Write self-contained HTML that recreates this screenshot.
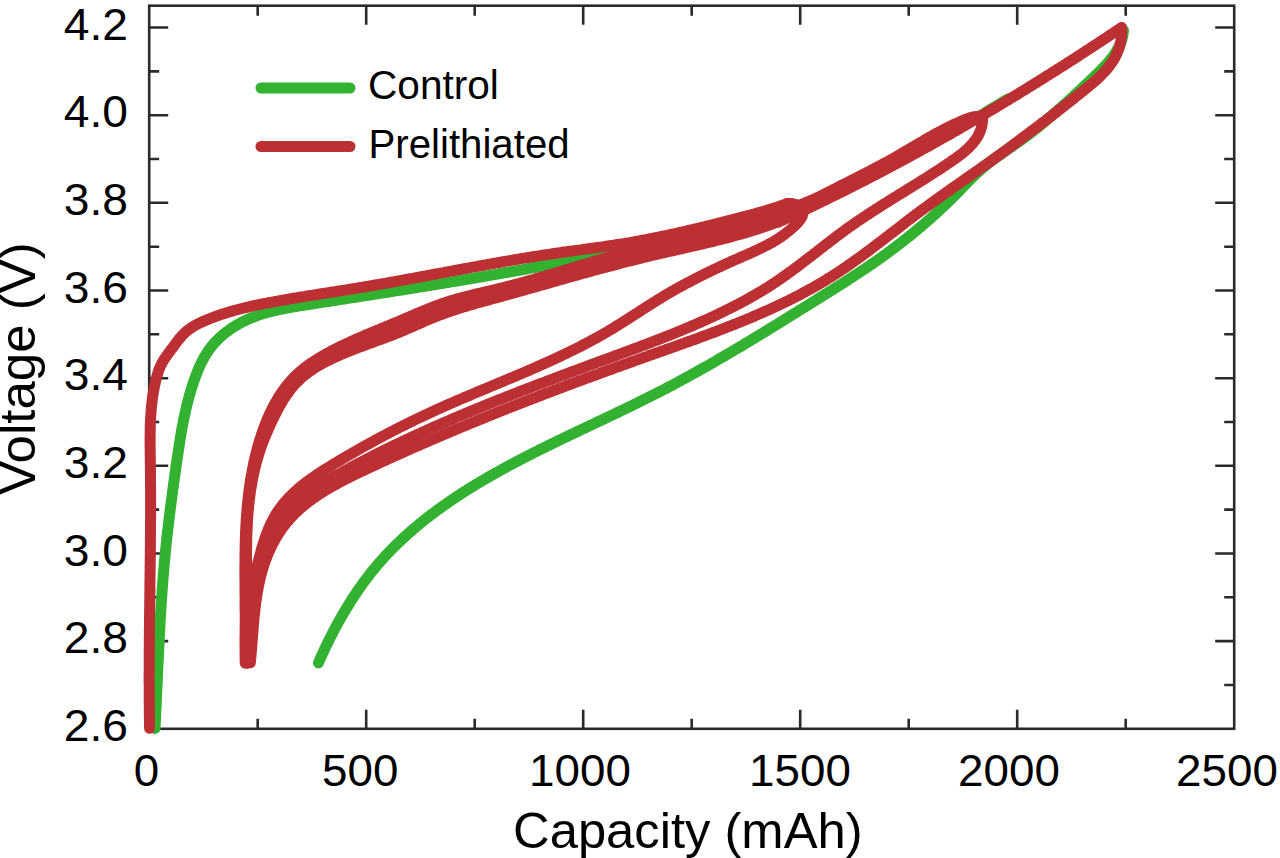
<!DOCTYPE html>
<html><head><meta charset="utf-8"><style>
html,body{margin:0;padding:0;background:#fff;width:1280px;height:858px;overflow:hidden}
svg{display:block}
#w{width:1280px;height:858px}
text{fill:#000}
</style></head><body>
<div id="w"><svg width="1280" height="858" viewBox="0 0 1280 858">
<rect x="149.2" y="5.7" width="1085.0" height="723.1" stroke="#2a2a2a" stroke-width="2.6" fill="none"/>
<path d="M257.7,728.8V718.8 M257.7,5.7V15.7 M366.2,728.8V709.8 M366.2,5.7V24.7 M474.7,728.8V718.8 M474.7,5.7V15.7 M583.2,728.8V709.8 M583.2,5.7V24.7 M691.7,728.8V718.8 M691.7,5.7V15.7 M800.2,728.8V709.8 M800.2,5.7V24.7 M908.7,728.8V718.8 M908.7,5.7V15.7 M1017.2,728.8V709.8 M1017.2,5.7V24.7 M1125.7,728.8V718.8 M1125.7,5.7V15.7 M149.2,685.0H159.2 M1234.2,685.0H1224.2 M149.2,641.1H168.2 M1234.2,641.1H1215.2 M149.2,597.3H159.2 M1234.2,597.3H1224.2 M149.2,553.5H168.2 M1234.2,553.5H1215.2 M149.2,509.6H159.2 M1234.2,509.6H1224.2 M149.2,465.8H168.2 M1234.2,465.8H1215.2 M149.2,422.0H159.2 M1234.2,422.0H1224.2 M149.2,378.2H168.2 M1234.2,378.2H1215.2 M149.2,334.3H159.2 M1234.2,334.3H1224.2 M149.2,290.5H168.2 M1234.2,290.5H1215.2 M149.2,246.7H159.2 M1234.2,246.7H1224.2 M149.2,202.8H168.2 M1234.2,202.8H1215.2 M149.2,159.0H159.2 M1234.2,159.0H1224.2 M149.2,115.2H168.2 M1234.2,115.2H1215.2 M149.2,71.4H159.2 M1234.2,71.4H1224.2 M149.2,27.5H168.2 M1234.2,27.5H1215.2" stroke="#2a2a2a" stroke-width="2.6" fill="none"/>
<path d="M155.0,728.5 L155.1,726.5 L155.2,724.5 L155.3,722.5 L155.4,720.5 L155.5,718.5 L155.6,716.5 L155.7,714.5 L155.8,712.5 L155.9,710.5 L156.0,708.5 L156.1,706.5 L156.2,704.5 L156.3,702.5 L156.4,700.5 L156.4,698.5 L156.5,696.5 L156.6,694.5 L156.7,692.5 L156.8,690.5 L156.9,688.5 L157.0,686.5 L157.1,684.5 L157.2,682.5 L157.3,680.5 L157.4,678.5 L157.4,676.4 L157.5,674.4 L157.6,672.4 L157.7,670.4 L157.8,668.4 L157.9,666.4 L158.0,664.4 L158.1,662.4 L158.2,660.4 L158.3,658.4 L158.4,656.4 L158.5,654.4 L158.6,652.3 L158.7,650.3 L158.8,648.3 L158.9,646.3 L159.0,644.3 L159.1,642.3 L159.2,640.3 L159.3,638.3 L159.4,636.3 L159.5,634.3 L159.6,632.3 L159.7,630.2 L159.8,628.2 L159.9,626.2 L160.0,624.2 L160.1,622.2 L160.2,620.2 L160.3,618.2 L160.5,616.2 L160.6,614.2 L160.7,612.2 L160.8,610.2 L161.0,608.2 L161.1,606.1 L161.2,604.1 L161.3,602.1 L161.5,600.1 L161.6,598.1 L161.7,596.1 L161.9,594.1 L162.0,592.1 L162.2,590.1 L162.3,588.1 L162.5,586.1 L162.6,584.1 L162.8,582.1 L162.9,580.1 L163.1,578.1 L163.2,576.1 L163.4,574.1 L163.6,572.1 L163.7,570.1 L163.9,568.1 L164.1,566.1 L164.2,564.1 L164.4,562.1 L164.6,560.1 L164.8,558.1 L165.0,556.1 L165.2,554.1 L165.4,552.1 L165.6,550.1 L165.8,548.1 L166.0,546.2 L166.2,544.2 L166.4,542.2 L166.6,540.2 L166.8,538.2 L167.0,536.2 L167.3,534.2 L167.5,532.2 L167.7,530.2 L168.0,528.3 L168.2,526.3 L168.4,524.3 L168.7,522.3 L168.9,520.3 L169.1,518.3 L169.4,516.3 L169.6,514.4 L169.9,512.4 L170.1,510.4 L170.4,508.4 L170.6,506.4 L170.9,504.4 L171.1,502.4 L171.4,500.5 L171.7,498.5 L171.9,496.5 L172.2,494.5 L172.5,492.5 L172.7,490.5 L173.0,488.5 L173.3,486.5 L173.5,484.6 L173.8,482.6 L174.1,480.6 L174.4,478.6 L174.6,476.6 L174.9,474.6 L175.2,472.6 L175.5,470.6 L175.8,468.6 L176.0,466.6 L176.3,464.6 L176.6,462.6 L176.9,460.6 L177.2,458.6 L177.5,456.6 L177.8,454.6 L178.1,452.6 L178.4,450.6 L178.7,448.6 L179.0,446.6 L179.3,444.7 L179.6,442.7 L179.9,440.7 L180.2,438.7 L180.6,436.7 L180.9,434.7 L181.2,432.7 L181.6,430.7 L181.9,428.7 L182.3,426.7 L182.7,424.8 L183.1,422.8 L183.4,420.8 L183.8,418.8 L184.2,416.9 L184.7,414.9 L185.1,412.9 L185.5,411.0 L186.0,409.0 L186.4,407.1 L186.9,405.1 L187.4,403.2 L187.9,401.2 L188.4,399.3 L188.9,397.4 L189.4,395.4 L190.0,393.5 L190.5,391.6 L191.1,389.7 L191.7,387.8 L192.3,385.9 L192.9,384.0 L193.6,382.1 L194.2,380.2 L194.9,378.3 L195.6,376.5 L196.3,374.6 L197.0,372.7 L197.7,370.9 L198.5,369.1 L199.3,367.2 L200.1,365.4 L201.0,363.6 L201.8,361.8 L202.7,360.1 L203.7,358.3 L204.6,356.6 L205.7,354.9 L206.7,353.2 L207.8,351.5 L208.9,349.9 L210.1,348.3 L211.4,346.7 L212.6,345.1 L213.9,343.6 L215.3,342.1 L216.7,340.7 L218.1,339.2 L219.6,337.8 L221.1,336.4 L222.6,335.1 L224.2,333.8 L225.7,332.5 L227.4,331.3 L229.0,330.1 L230.6,328.9 L232.3,327.8 L234.0,326.7 L235.7,325.7 L237.4,324.7 L239.1,323.7 L240.9,322.7 L242.6,321.8 L244.4,321.0 L246.2,320.1 L248.0,319.3 L249.8,318.5 L251.7,317.8 L253.5,317.1 L255.3,316.4 L257.2,315.7 L259.1,315.0 L260.9,314.4 L262.8,313.8 L264.7,313.3 L266.6,312.7 L268.6,312.2 L270.5,311.7 L272.4,311.2 L274.3,310.7 L276.3,310.3 L278.2,309.8 L280.2,309.4 L282.2,309.0 L284.1,308.6 L286.1,308.2 L288.1,307.9 L290.1,307.5 L292.1,307.1 L294.0,306.8 L296.0,306.5 L298.0,306.1 L300.0,305.8 L302.0,305.5 L304.0,305.2 L306.0,304.9 L308.0,304.6 L310.0,304.3 L312.0,304.0 L314.0,303.6 L316.0,303.3 L318.0,303.0 L320.0,302.7 L322.0,302.4 L324.0,302.1 L326.0,301.8 L328.0,301.5 L330.0,301.2 L332.0,300.9 L334.0,300.6 L336.0,300.3 L338.0,299.9 L340.0,299.6 L342.0,299.3 L344.0,299.0 L345.9,298.7 L347.9,298.4 L349.9,298.1 L351.9,297.8 L353.9,297.5 L355.9,297.2 L357.9,296.9 L359.9,296.5 L361.9,296.2 L363.9,295.9 L365.9,295.6 L367.8,295.3 L369.8,295.0 L371.8,294.7 L373.8,294.4 L375.8,294.1 L377.8,293.7 L379.8,293.4 L381.7,293.1 L383.7,292.8 L385.7,292.5 L387.7,292.2 L389.7,291.9 L391.7,291.6 L393.7,291.2 L395.6,290.9 L397.6,290.6 L399.6,290.3 L401.6,290.0 L403.6,289.7 L405.6,289.3 L407.5,289.0 L409.5,288.7 L411.5,288.4 L413.5,288.1 L415.5,287.8 L417.4,287.4 L419.4,287.1 L421.4,286.8 L423.4,286.5 L425.4,286.2 L427.3,285.8 L429.3,285.5 L431.3,285.2 L433.3,284.9 L435.3,284.5 L437.2,284.2 L439.2,283.9 L441.2,283.6 L443.2,283.2 L445.2,282.9 L447.1,282.6 L449.1,282.3 L451.1,281.9 L453.1,281.6 L455.0,281.3 L457.0,281.0 L459.0,280.6 L461.0,280.3 L462.9,280.0 L464.9,279.6 L466.9,279.3 L468.9,279.0 L470.8,278.6 L472.8,278.3 L474.8,278.0 L476.8,277.6 L478.7,277.3 L480.7,277.0 L482.7,276.6 L484.7,276.3 L486.6,275.9 L488.6,275.6 L490.6,275.3 L492.6,274.9 L494.5,274.6 L496.5,274.2 L498.5,273.9 L500.4,273.5 L502.4,273.2 L504.4,272.8 L506.4,272.5 L508.3,272.2 L510.3,271.8 L512.3,271.5 L514.3,271.1 L516.2,270.8 L518.2,270.4 L520.2,270.0 L522.1,269.7 L524.1,269.3 L526.1,269.0 L528.0,268.6 L530.0,268.3 L532.0,267.9 L534.0,267.5 L535.9,267.2 L537.9,266.8 L539.9,266.5 L541.8,266.1 L543.8,265.7 L545.8,265.4 L547.8,265.0 L549.7,264.6 L551.7,264.3 L553.7,263.9 L555.6,263.5 L557.6,263.2 L559.6,262.8 L561.5,262.4 L563.5,262.0 L565.5,261.7 L567.5,261.3 L569.4,260.9 L571.4,260.5 L573.4,260.2 L575.3,259.8 L577.3,259.4 L579.3,259.0 L581.2,258.6 L583.2,258.2 L585.2,257.8 L587.2,257.5 L589.1,257.1 L591.1,256.7 L593.1,256.3 L595.0,255.9 L597.0,255.5 L599.0,255.1 L600.9,254.7 L602.9,254.3 L604.9,253.9 L606.8,253.5 L608.8,253.1 L610.8,252.7 L612.8,252.3 L614.7,251.9 L616.7,251.5 L618.7,251.1 L620.6,250.7 L622.6,250.3 L624.6,249.9 L626.5,249.4 L628.5,249.0 L630.5,248.6 L632.5,248.2 L634.4,247.8 L636.4,247.4 L638.4,246.9 L640.3,246.5 L642.3,246.1 L644.3,245.7 L646.3,245.2 L648.2,244.8 L650.2,244.4 L652.2,243.9 L654.1,243.5 L656.1,243.1 L658.1,242.6 L660.1,242.2" stroke="#33b232" stroke-width="11" fill="none" stroke-linecap="round" stroke-linejoin="round"/>
<path d="M977.0,117.3 L984.0,113.5 L990.0,109.6 L1000.0,103.6 L1008.0,99.0" stroke="#33b232" stroke-width="11" fill="none" stroke-linecap="round" stroke-linejoin="round"/>
<path d="M1123.5,30.5 L1123.3,32.4 L1123.0,34.3 L1122.7,36.1 L1122.3,37.9 L1121.8,39.7 L1121.2,41.4 L1120.5,43.2 L1119.8,44.9 L1119.0,46.5 L1118.2,48.2 L1117.3,49.8 L1116.3,51.5 L1115.3,53.1 L1114.2,54.6 L1113.1,56.2 L1111.9,57.7 L1110.7,59.3 L1109.5,60.8 L1108.2,62.3 L1106.9,63.8 L1105.6,65.3 L1104.2,66.7 L1102.8,68.2 L1101.4,69.6 L1099.9,71.1 L1098.5,72.5 L1097.0,73.9 L1095.5,75.4 L1094.1,76.8 L1092.6,78.2 L1091.1,79.6 L1089.6,81.0 L1088.1,82.4 L1086.6,83.8 L1085.1,85.2 L1083.6,86.6 L1082.2,88.0 L1080.7,89.4 L1079.2,90.8 L1077.7,92.2 L1076.2,93.6 L1074.7,95.0 L1073.2,96.4 L1071.7,97.8 L1070.2,99.2 L1068.8,100.5 L1067.3,101.9 L1065.8,103.3 L1064.3,104.6 L1062.8,106.0 L1061.3,107.3 L1059.7,108.7 L1058.2,110.0 L1056.7,111.3 L1055.2,112.7 L1053.7,114.0 L1052.2,115.3 L1050.7,116.6 L1049.1,117.9 L1047.6,119.2 L1046.1,120.5 L1044.5,121.8 L1043.0,123.1 L1041.4,124.4 L1039.9,125.6 L1038.3,126.9 L1036.8,128.1 L1035.2,129.4 L1033.6,130.6 L1032.1,131.9 L1030.5,133.1 L1028.9,134.3 L1027.3,135.5 L1025.7,136.7 L1024.1,137.9 L1022.5,139.1 L1020.9,140.2 L1019.3,141.4 L1017.6,142.5 L1016.0,143.7 L1014.4,144.8 L1012.7,146.0 L1011.1,147.1 L1009.4,148.2 L1007.8,149.3 L1006.2,150.5 L1004.5,151.6 L1002.9,152.7 L1001.2,153.9 L999.6,155.0 L998.0,156.2 L996.4,157.3 L994.8,158.5 L993.2,159.6 L991.6,160.8 L990.0,162.0 L988.4,163.2 L986.9,164.5 L985.3,165.7 L983.8,167.0 L982.3,168.2 L980.8,169.5 L979.3,170.9 L977.9,172.2 L976.4,173.6 L975.0,174.9 L973.5,176.3 L972.1,177.7 L970.7,179.1 L969.3,180.5 L967.9,182.0 L966.5,183.4 L965.1,184.8 L963.7,186.3 L962.3,187.7 L960.9,189.1 L959.6,190.6 L958.2,192.0 L956.8,193.4 L955.3,194.9 L953.9,196.3 L952.5,197.7 L951.1,199.1 L949.7,200.5 L948.2,201.9 L946.8,203.3 L945.3,204.7 L943.9,206.1 L942.4,207.5 L941.0,208.8 L939.5,210.2 L938.0,211.5 L936.5,212.9 L935.1,214.3 L933.6,215.6 L932.1,216.9 L930.6,218.3 L929.1,219.6 L927.6,220.9 L926.1,222.2 L924.5,223.6 L923.0,224.9 L921.5,226.2 L920.0,227.5 L918.4,228.7 L916.9,230.0 L915.3,231.3 L913.8,232.6 L912.2,233.9 L910.7,235.1 L909.1,236.4 L907.5,237.6 L906.0,238.9 L904.4,240.1 L902.8,241.4 L901.2,242.6 L899.6,243.8 L898.0,245.1 L896.4,246.3 L894.8,247.5 L893.2,248.7 L891.6,249.9 L890.0,251.1 L888.4,252.3 L886.8,253.5 L885.1,254.7 L883.5,255.8 L881.9,257.0 L880.2,258.2 L878.6,259.3 L877.0,260.5 L875.3,261.7 L873.7,262.8 L872.0,263.9 L870.3,265.1 L868.7,266.2 L867.0,267.3 L865.4,268.5 L863.7,269.6 L862.0,270.7 L860.3,271.8 L858.7,272.9 L857.0,274.0 L855.3,275.1 L853.6,276.2 L851.9,277.3 L850.2,278.4 L848.5,279.5 L846.9,280.6 L845.2,281.7 L843.5,282.8 L841.8,283.9 L840.1,285.0 L838.4,286.0 L836.7,287.1 L835.0,288.2 L833.3,289.3 L831.6,290.3 L829.9,291.4 L828.1,292.5 L826.4,293.6 L824.7,294.6 L823.0,295.7 L821.3,296.8 L819.6,297.8 L817.9,298.9 L816.2,300.0 L814.5,301.0 L812.8,302.1 L811.1,303.2 L809.3,304.2 L807.6,305.3 L805.9,306.4 L804.2,307.4 L802.5,308.5 L800.8,309.6 L799.1,310.6 L797.4,311.7 L795.7,312.8 L794.0,313.8 L792.2,314.9 L790.5,315.9 L788.8,317.0 L787.1,318.1 L785.4,319.1 L783.7,320.2 L782.0,321.2 L780.2,322.3 L778.5,323.4 L776.8,324.4 L775.1,325.5 L773.4,326.5 L771.7,327.6 L770.0,328.6 L768.2,329.7 L766.5,330.8 L764.8,331.8 L763.1,332.9 L761.4,333.9 L759.6,334.9 L757.9,336.0 L756.2,337.0 L754.5,338.1 L752.7,339.1 L751.0,340.2 L749.3,341.2 L747.6,342.2 L745.8,343.3 L744.1,344.3 L742.4,345.4 L740.7,346.4 L738.9,347.4 L737.2,348.4 L735.5,349.5 L733.7,350.5 L732.0,351.5 L730.3,352.5 L728.5,353.6 L726.8,354.6 L725.1,355.6 L723.3,356.6 L721.6,357.6 L719.8,358.6 L718.1,359.6 L716.4,360.7 L714.6,361.7 L712.9,362.7 L711.1,363.7 L709.4,364.7 L707.6,365.7 L705.9,366.7 L704.1,367.6 L702.4,368.6 L700.6,369.6 L698.9,370.6 L697.1,371.6 L695.4,372.6 L693.6,373.5 L691.8,374.5 L690.1,375.5 L688.3,376.5 L686.5,377.4 L684.8,378.4 L683.0,379.3 L681.2,380.3 L679.5,381.3 L677.7,382.2 L675.9,383.2 L674.2,384.1 L672.4,385.1 L670.6,386.0 L668.8,386.9 L667.0,387.9 L665.3,388.8 L663.5,389.7 L661.7,390.7 L659.9,391.6 L658.1,392.5 L656.3,393.4 L654.5,394.3 L652.7,395.2 L650.9,396.1 L649.1,397.0 L647.3,397.9 L645.5,398.8 L643.7,399.7 L641.9,400.6 L640.1,401.5 L638.3,402.4 L636.5,403.3 L634.7,404.2 L632.9,405.1 L631.1,406.0 L629.3,406.8 L627.5,407.7 L625.7,408.6 L623.9,409.5 L622.0,410.3 L620.2,411.2 L618.4,412.1 L616.6,412.9 L614.8,413.8 L613.0,414.7 L611.2,415.5 L609.3,416.4 L607.5,417.3 L605.7,418.1 L603.9,419.0 L602.1,419.9 L600.2,420.7 L598.4,421.6 L596.6,422.4 L594.8,423.3 L593.0,424.2 L591.1,425.0 L589.3,425.9 L587.5,426.8 L585.7,427.6 L583.9,428.5 L582.0,429.3 L580.2,430.2 L578.4,431.1 L576.6,431.9 L574.8,432.8 L572.9,433.7 L571.1,434.5 L569.3,435.4 L567.5,436.3 L565.7,437.1 L563.9,438.0 L562.0,438.9 L560.2,439.8 L558.4,440.6 L556.6,441.5 L554.8,442.4 L553.0,443.3 L551.2,444.1 L549.4,445.0 L547.6,445.9 L545.8,446.8 L543.9,447.7 L542.1,448.6 L540.3,449.5 L538.5,450.4 L536.7,451.3 L534.9,452.2 L533.1,453.1 L531.3,454.0 L529.6,454.9 L527.8,455.8 L526.0,456.8 L524.2,457.7 L522.4,458.6 L520.6,459.5 L518.8,460.5 L517.0,461.4 L515.2,462.3 L513.5,463.3 L511.7,464.2 L509.9,465.2 L508.1,466.1 L506.4,467.1 L504.6,468.1 L502.8,469.0 L501.1,470.0 L499.3,471.0 L497.5,472.0 L495.8,472.9 L494.0,473.9 L492.3,474.9 L490.5,475.9 L488.8,476.9 L487.0,477.9 L485.3,479.0 L483.5,480.0 L481.8,481.0 L480.1,482.0 L478.3,483.1 L476.6,484.1 L474.9,485.1 L473.2,486.2 L471.4,487.3 L469.7,488.3 L468.0,489.4 L466.3,490.5 L464.6,491.6 L462.9,492.6 L461.2,493.7 L459.5,494.8 L457.8,495.9 L456.1,497.0 L454.5,498.2 L452.8,499.3 L451.1,500.4 L449.5,501.6 L447.8,502.7 L446.1,503.9 L444.5,505.0 L442.8,506.2 L441.2,507.3 L439.6,508.5 L437.9,509.7 L436.3,510.9 L434.7,512.1 L433.1,513.3 L431.5,514.5 L429.9,515.7 L428.3,517.0 L426.7,518.2 L425.1,519.4 L423.6,520.7 L422.0,521.9 L420.4,523.2 L418.9,524.5 L417.3,525.8 L415.8,527.1 L414.3,528.3 L412.7,529.7 L411.2,531.0 L409.7,532.3 L408.2,533.6 L406.7,535.0 L405.2,536.3 L403.8,537.6 L402.3,539.0 L400.8,540.4 L399.4,541.8 L397.9,543.1 L396.5,544.5 L395.1,545.9 L393.6,547.4 L392.2,548.8 L390.8,550.2 L389.4,551.7 L388.1,553.1 L386.7,554.6 L385.3,556.0 L384.0,557.5 L382.6,559.0 L381.3,560.5 L380.0,562.0 L378.6,563.5 L377.3,565.0 L376.0,566.6 L374.8,568.1 L373.5,569.7 L372.2,571.2 L371.0,572.8 L369.7,574.4 L368.5,576.0 L367.2,577.6 L366.0,579.2 L364.8,580.8 L363.6,582.4 L362.4,584.0 L361.3,585.7 L360.1,587.3 L358.9,589.0 L357.8,590.6 L356.7,592.3 L355.5,594.0 L354.4,595.7 L353.3,597.3 L352.2,599.0 L351.1,600.7 L350.0,602.5 L349.0,604.2 L347.9,605.9 L346.8,607.6 L345.8,609.3 L344.8,611.1 L343.7,612.8 L342.7,614.6 L341.7,616.3 L340.7,618.1 L339.7,619.8 L338.7,621.6 L337.7,623.4 L336.8,625.1 L335.8,626.9 L334.9,628.7 L333.9,630.5 L333.0,632.2 L332.1,634.0 L331.2,635.8 L330.2,637.6 L329.3,639.4 L328.5,641.2 L327.6,643.0 L326.7,644.8 L325.8,646.6 L325.0,648.4 L324.1,650.2 L323.3,652.1 L322.4,653.9 L321.6,655.7 L320.8,657.5 L320.0,659.3 L319.2,661.1 L318.4,662.9" stroke="#33b232" stroke-width="11" fill="none" stroke-linecap="round" stroke-linejoin="round"/>
<path d="M149.6,728.3 L149.5,726.3 L149.5,724.3 L149.5,722.3 L149.4,720.3 L149.4,718.3 L149.4,716.2 L149.4,714.2 L149.3,712.2 L149.3,710.2 L149.3,708.2 L149.3,706.2 L149.3,704.2 L149.2,702.1 L149.2,700.1 L149.2,698.1 L149.2,696.1 L149.2,694.1 L149.2,692.1 L149.2,690.1 L149.2,688.1 L149.2,686.1 L149.2,684.0 L149.1,682.0 L149.1,680.0 L149.1,678.0 L149.1,676.0 L149.1,674.0 L149.2,672.0 L149.2,670.0 L149.2,668.0 L149.2,666.0 L149.2,664.0 L149.2,662.0 L149.2,660.0 L149.2,658.0 L149.2,655.9 L149.2,653.9 L149.2,651.9 L149.2,649.9 L149.3,647.9 L149.3,645.9 L149.3,643.9 L149.3,641.9 L149.3,639.9 L149.3,637.9 L149.4,635.9 L149.4,633.9 L149.4,631.9 L149.4,629.9 L149.4,627.9 L149.5,625.9 L149.5,623.9 L149.5,621.9 L149.5,619.9 L149.5,617.9 L149.6,615.9 L149.6,613.9 L149.6,611.9 L149.6,609.9 L149.7,607.9 L149.7,605.9 L149.7,603.9 L149.7,601.9 L149.8,599.9 L149.8,597.9 L149.8,595.9 L149.8,593.9 L149.9,591.8 L149.9,589.8 L149.9,587.8 L149.9,585.8 L149.9,583.8 L150.0,581.8 L150.0,579.8 L150.0,577.8 L150.0,575.8 L150.1,573.8 L150.1,571.8 L150.1,569.8 L150.1,567.8 L150.2,565.8 L150.2,563.8 L150.2,561.8 L150.2,559.8 L150.3,557.8 L150.3,555.8 L150.3,553.8 L150.3,551.8 L150.3,549.8 L150.4,547.8 L150.4,545.8 L150.4,543.8 L150.4,541.8 L150.4,539.8 L150.4,537.8 L150.5,535.8 L150.5,533.7 L150.5,531.7 L150.5,529.7 L150.5,527.7 L150.5,525.7 L150.5,523.7 L150.5,521.7 L150.6,519.7 L150.6,517.7 L150.6,515.7 L150.6,513.7 L150.6,511.7 L150.6,509.6 L150.6,507.6 L150.6,505.6 L150.6,503.6 L150.6,501.6 L150.6,499.6 L150.6,497.6 L150.6,495.6 L150.6,493.6 L150.6,491.5 L150.6,489.5 L150.6,487.5 L150.5,485.5 L150.5,483.5 L150.5,481.5 L150.5,479.5 L150.5,477.4 L150.5,475.4 L150.5,473.4 L150.4,471.4 L150.4,469.4 L150.4,467.4 L150.4,465.3 L150.3,463.3 L150.3,461.3 L150.3,459.3 L150.3,457.2 L150.2,455.2 L150.2,453.2 L150.2,451.2 L150.2,449.2 L150.1,447.1 L150.1,445.1 L150.1,443.1 L150.1,441.1 L150.1,439.1 L150.1,437.1 L150.1,435.0 L150.2,433.0 L150.2,431.0 L150.2,429.0 L150.3,427.0 L150.3,425.0 L150.4,423.0 L150.5,421.0 L150.6,419.0 L150.7,417.0 L150.8,415.0 L151.0,413.0 L151.1,411.0 L151.3,409.0 L151.4,407.0 L151.6,405.0 L151.9,403.1 L152.1,401.1 L152.3,399.1 L152.6,397.1 L152.9,395.2 L153.2,393.2 L153.5,391.3 L153.9,389.3 L154.3,387.4 L154.6,385.4 L155.1,383.5 L155.5,381.5 L156.0,379.6 L156.5,377.7 L157.0,375.8 L157.6,373.9 L158.2,372.0 L158.8,370.1 L159.6,368.2 L160.3,366.4 L161.2,364.6 L162.1,362.9 L163.1,361.1 L164.1,359.4 L165.3,357.7 L166.4,356.1 L167.6,354.4 L168.8,352.8 L170.0,351.1 L171.2,349.5 L172.5,347.8 L173.7,346.2 L174.9,344.6 L176.2,342.9 L177.4,341.3 L178.6,339.7 L179.9,338.2 L181.2,336.6 L182.6,335.1 L183.9,333.7 L185.4,332.3 L186.8,331.0 L188.4,329.8 L190.0,328.6 L191.6,327.5 L193.3,326.5 L195.0,325.5 L196.7,324.5 L198.5,323.6 L200.3,322.7 L202.1,321.9 L204.0,321.1 L205.8,320.3 L207.7,319.5 L209.5,318.8 L211.4,318.0 L213.3,317.3 L215.1,316.6 L217.0,315.9 L218.9,315.3 L220.8,314.6 L222.7,314.0 L224.6,313.4 L226.5,312.8 L228.5,312.2 L230.4,311.6 L232.3,311.1 L234.2,310.5 L236.2,310.0 L238.1,309.5 L240.1,309.0 L242.0,308.5 L244.0,308.0 L245.9,307.5 L247.9,307.1 L249.8,306.6 L251.8,306.2 L253.8,305.7 L255.7,305.3 L257.7,304.9 L259.7,304.5 L261.6,304.1 L263.6,303.7 L265.6,303.3 L267.6,302.9 L269.5,302.5 L271.5,302.2 L273.5,301.8 L275.5,301.4 L277.5,301.1 L279.4,300.7 L281.4,300.4 L283.4,300.0 L285.4,299.7 L287.4,299.3 L289.3,299.0 L291.3,298.6 L293.3,298.3 L295.3,298.0 L297.2,297.7 L299.2,297.3 L301.2,297.0 L303.2,296.7 L305.2,296.4 L307.1,296.0 L309.1,295.7 L311.1,295.4 L313.1,295.1 L315.1,294.8 L317.0,294.5 L319.0,294.1 L321.0,293.8 L323.0,293.5 L325.0,293.2 L326.9,292.9 L328.9,292.6 L330.9,292.3 L332.9,292.0 L334.9,291.7 L336.8,291.3 L338.8,291.0 L340.8,290.7 L342.8,290.4 L344.8,290.1 L346.7,289.8 L348.7,289.5 L350.7,289.1 L352.7,288.8 L354.7,288.5 L356.6,288.2 L358.6,287.8 L360.6,287.5 L362.6,287.2 L364.5,286.8 L366.5,286.5 L368.5,286.2 L370.5,285.8 L372.5,285.5 L374.4,285.1 L376.4,284.8 L378.4,284.5 L380.4,284.1 L382.3,283.8 L384.3,283.4 L386.3,283.1 L388.3,282.7 L390.2,282.4 L392.2,282.0 L394.2,281.7 L396.2,281.3 L398.1,280.9 L400.1,280.6 L402.1,280.2 L404.1,279.9 L406.0,279.5 L408.0,279.1 L410.0,278.8 L412.0,278.4 L413.9,278.1 L415.9,277.7 L417.9,277.3 L419.9,277.0 L421.8,276.6 L423.8,276.2 L425.8,275.9 L427.8,275.5 L429.7,275.1 L431.7,274.8 L433.7,274.4 L435.7,274.0 L437.6,273.7 L439.6,273.3 L441.6,272.9 L443.6,272.6 L445.5,272.2 L447.5,271.8 L449.5,271.4 L451.5,271.1 L453.4,270.7 L455.4,270.3 L457.4,270.0 L459.4,269.6 L461.3,269.3 L463.3,268.9 L465.3,268.5 L467.3,268.2 L469.2,267.8 L471.2,267.4 L473.2,267.1 L475.2,266.7 L477.1,266.4 L479.1,266.0 L481.1,265.6 L483.1,265.3 L485.0,264.9 L487.0,264.6 L489.0,264.2 L491.0,263.9 L493.0,263.5 L494.9,263.2 L496.9,262.8 L498.9,262.5 L500.9,262.1 L502.8,261.8 L504.8,261.4 L506.8,261.1 L508.8,260.8 L510.8,260.4 L512.7,260.1 L514.7,259.7 L516.7,259.4 L518.7,259.1 L520.6,258.7 L522.6,258.4 L524.6,258.1 L526.6,257.8 L528.6,257.5 L530.5,257.1 L532.5,256.8 L534.5,256.5 L536.5,256.2 L538.5,255.9 L540.5,255.6 L542.4,255.3 L544.4,255.0 L546.4,254.7 L548.4,254.4 L550.4,254.1 L552.4,253.8 L554.3,253.5 L556.3,253.2 L558.3,252.9 L560.3,252.6 L562.3,252.3 L564.3,252.0 L566.3,251.8 L568.2,251.5 L570.2,251.2 L572.2,250.9 L574.2,250.7 L576.2,250.4 L578.2,250.1 L580.2,249.9 L582.2,249.6 L584.2,249.3 L586.1,249.1 L588.1,248.8 L590.1,248.5 L592.1,248.2 L594.1,248.0 L596.1,247.7 L598.1,247.4 L600.1,247.1 L602.0,246.9 L604.0,246.6 L606.0,246.3 L608.0,246.0 L610.0,245.7 L612.0,245.4 L614.0,245.1 L615.9,244.8 L617.9,244.5 L619.9,244.2 L621.9,243.9 L623.9,243.6 L625.8,243.2 L627.8,242.9 L629.8,242.6 L631.8,242.2 L633.8,241.9 L635.7,241.5 L637.7,241.1 L639.7,240.8 L641.7,240.4 L643.6,240.0 L645.6,239.7 L647.6,239.3 L649.5,238.9 L651.5,238.5 L653.5,238.1 L655.4,237.7 L657.4,237.3 L659.4,236.9 L661.3,236.5 L663.3,236.1 L665.3,235.7 L667.2,235.3 L669.2,234.8 L671.2,234.4 L673.1,234.0 L675.1,233.6 L677.1,233.1 L679.0,232.7 L681.0,232.2 L682.9,231.8 L684.9,231.3 L686.8,230.9 L688.8,230.4 L690.8,230.0 L692.7,229.5 L694.7,229.0 L696.6,228.6 L698.6,228.1 L700.5,227.6 L702.5,227.2 L704.4,226.7 L706.4,226.2 L708.3,225.7 L710.3,225.3 L712.2,224.8 L714.2,224.3 L716.1,223.8 L718.1,223.3 L720.0,222.8 L722.0,222.3 L723.9,221.8 L725.9,221.3 L727.8,220.8 L729.7,220.3 L731.7,219.8 L733.6,219.3 L735.6,218.8 L737.5,218.3 L739.5,217.8 L741.4,217.3 L743.3,216.8 L745.3,216.3 L747.2,215.8 L749.1,215.3 L751.1,214.8 L753.0,214.2 L754.9,213.7 L756.9,213.2 L758.8,212.6 L760.7,212.1 L762.7,211.5 L764.6,211.0 L766.5,210.4 L768.4,209.8 L770.3,209.2 L772.3,208.6 L774.2,208.0 L776.1,207.4 L778.0,206.8 L779.9,206.1 L781.8,205.5 L783.7,204.8 L785.6,204.1 L787.5,203.4" stroke="#bc2f33" stroke-width="11" fill="none" stroke-linecap="round" stroke-linejoin="round"/>
<path d="M1121.6,27.6 L1121.7,29.8 L1121.7,32.1 L1121.6,34.3 L1121.4,36.4 L1121.2,38.5 L1120.9,40.5 L1120.5,42.6 L1120.1,44.5 L1119.6,46.4 L1119.0,48.3 L1118.3,50.2 L1117.6,52.0 L1116.8,53.8 L1116.0,55.5 L1115.1,57.2 L1114.2,58.9 L1113.2,60.5 L1112.1,62.1 L1111.0,63.7 L1109.9,65.3 L1108.7,66.8 L1107.5,68.3 L1106.2,69.8 L1104.9,71.3 L1103.6,72.7 L1102.2,74.1 L1100.9,75.5 L1099.4,76.9 L1098.0,78.3 L1096.5,79.7 L1095.0,81.0 L1093.5,82.3 L1092.0,83.6 L1090.4,84.9 L1088.9,86.2 L1087.3,87.5 L1085.7,88.8 L1084.2,90.1 L1082.6,91.4 L1081.0,92.6 L1079.4,93.9 L1077.8,95.2 L1076.2,96.4 L1074.7,97.7 L1073.1,99.0 L1071.5,100.2 L1069.9,101.5 L1068.3,102.7 L1066.7,104.0 L1065.1,105.2 L1063.6,106.5 L1062.0,107.7 L1060.4,109.0 L1058.8,110.2 L1057.2,111.4 L1055.6,112.7 L1054.0,113.9 L1052.4,115.1 L1050.9,116.4 L1049.3,117.6 L1047.7,118.8 L1046.1,120.1 L1044.5,121.3 L1042.9,122.5 L1041.3,123.7 L1039.7,124.9 L1038.1,126.2 L1036.5,127.4 L1034.9,128.6 L1033.3,129.8 L1031.7,131.0 L1030.1,132.2 L1028.5,133.4 L1026.9,134.6 L1025.3,135.8 L1023.7,137.0 L1022.1,138.2 L1020.5,139.4 L1018.9,140.6 L1017.3,141.8 L1015.7,143.0 L1014.1,144.2 L1012.5,145.4 L1010.9,146.6 L1009.3,147.7 L1007.7,148.9 L1006.1,150.1 L1004.5,151.3 L1002.8,152.4 L1001.2,153.6 L999.6,154.8 L998.0,156.0 L996.4,157.1 L994.8,158.3 L993.1,159.5 L991.5,160.6 L989.9,161.8 L988.3,163.0 L986.6,164.1 L985.0,165.3 L983.4,166.4 L981.7,167.6 L980.1,168.7 L978.5,169.9 L976.8,171.0 L975.2,172.2 L973.6,173.3 L971.9,174.5 L970.3,175.6 L968.6,176.8 L967.0,177.9 L965.4,179.1 L963.7,180.2 L962.1,181.4 L960.4,182.5 L958.8,183.7 L957.2,184.8 L955.5,186.0 L953.9,187.1 L952.2,188.3 L950.6,189.4 L949.0,190.6 L947.3,191.7 L945.7,192.9 L944.1,194.0 L942.4,195.2 L940.8,196.4 L939.2,197.5 L937.5,198.7 L935.9,199.9 L934.3,201.0 L932.6,202.2 L931.0,203.4 L929.4,204.6 L927.8,205.7 L926.1,206.9 L924.5,208.1 L922.9,209.3 L921.3,210.5 L919.7,211.7 L918.1,212.9 L916.5,214.1 L914.8,215.3 L913.2,216.5 L911.6,217.8 L910.0,219.0 L908.4,220.2 L906.8,221.4 L905.2,222.6 L903.6,223.9 L902.0,225.1 L900.4,226.3 L898.9,227.6 L897.3,228.8 L895.7,230.0 L894.1,231.3 L892.5,232.5 L890.9,233.7 L889.3,234.9 L887.7,236.2 L886.1,237.4 L884.5,238.6 L882.9,239.9 L881.3,241.1 L879.7,242.3 L878.1,243.5 L876.5,244.7 L874.9,246.0 L873.3,247.2 L871.7,248.4 L870.1,249.6 L868.5,250.8 L866.9,252.0 L865.3,253.2 L863.7,254.4 L862.0,255.6 L860.4,256.8 L858.8,257.9 L857.2,259.1 L855.5,260.3 L853.9,261.4 L852.3,262.6 L850.6,263.8 L849.0,264.9 L847.4,266.0 L845.7,267.2 L844.0,268.3 L842.4,269.4 L840.7,270.5 L839.1,271.6 L837.4,272.7 L835.7,273.8 L834.0,274.9 L832.4,276.0 L830.7,277.0 L829.0,278.1 L827.3,279.1 L825.6,280.2 L823.9,281.2 L822.2,282.2 L820.5,283.2 L818.7,284.3 L817.0,285.3 L815.3,286.2 L813.6,287.2 L811.8,288.2 L810.1,289.2 L808.3,290.1 L806.6,291.1 L804.8,292.0 L803.1,293.0 L801.3,293.9 L799.6,294.9 L797.8,295.8 L796.0,296.7 L794.2,297.6 L792.5,298.5 L790.7,299.4 L788.9,300.3 L787.1,301.2 L785.3,302.0 L783.5,302.9 L781.7,303.8 L779.9,304.6 L778.1,305.5 L776.3,306.3 L774.5,307.2 L772.7,308.0 L770.9,308.9 L769.0,309.7 L767.2,310.5 L765.4,311.3 L763.6,312.1 L761.7,312.9 L759.9,313.7 L758.1,314.5 L756.2,315.3 L754.4,316.1 L752.5,316.9 L750.7,317.7 L748.8,318.5 L747.0,319.2 L745.1,320.0 L743.3,320.8 L741.4,321.5 L739.6,322.3 L737.7,323.0 L735.8,323.8 L734.0,324.5 L732.1,325.2 L730.2,326.0 L728.4,326.7 L726.5,327.4 L724.6,328.2 L722.8,328.9 L720.9,329.6 L719.0,330.3 L717.1,331.1 L715.2,331.8 L713.4,332.5 L711.5,333.2 L709.6,333.9 L707.7,334.6 L705.8,335.3 L703.9,336.0 L702.0,336.7 L700.1,337.4 L698.3,338.1 L696.4,338.8 L694.5,339.5 L692.6,340.1 L690.7,340.8 L688.8,341.5 L686.9,342.2 L685.0,342.9 L683.1,343.6 L681.2,344.2 L679.3,344.9 L677.4,345.6 L675.5,346.3 L673.6,346.9 L671.7,347.6 L669.8,348.3 L667.9,349.0 L666.0,349.6 L664.1,350.3 L662.2,351.0 L660.3,351.7 L658.4,352.3 L656.5,353.0 L654.6,353.7 L652.8,354.3 L650.9,355.0 L649.0,355.7 L647.1,356.4 L645.2,357.0 L643.3,357.7 L641.4,358.4 L639.5,359.1 L637.6,359.7 L635.7,360.4 L633.8,361.1 L631.9,361.8 L630.0,362.5 L628.1,363.1 L626.3,363.8 L624.4,364.5 L622.5,365.2 L620.6,365.9 L618.7,366.5 L616.8,367.2 L614.9,367.9 L613.0,368.6 L611.2,369.3 L609.3,370.0 L607.4,370.6 L605.5,371.3 L603.6,372.0 L601.7,372.7 L599.9,373.4 L598.0,374.1 L596.1,374.8 L594.2,375.5 L592.3,376.2 L590.5,376.9 L588.6,377.5 L586.7,378.2 L584.8,378.9 L582.9,379.6 L581.1,380.3 L579.2,381.0 L577.3,381.7 L575.4,382.4 L573.6,383.1 L571.7,383.8 L569.8,384.5 L567.9,385.2 L566.1,385.9 L564.2,386.6 L562.3,387.3 L560.4,388.0 L558.6,388.7 L556.7,389.5 L554.8,390.2 L552.9,390.9 L551.1,391.6 L549.2,392.3 L547.3,393.0 L545.5,393.7 L543.6,394.4 L541.7,395.1 L539.9,395.9 L538.0,396.6 L536.1,397.3 L534.3,398.0 L532.4,398.7 L530.5,399.5 L528.7,400.2 L526.8,400.9 L524.9,401.6 L523.1,402.4 L521.2,403.1 L519.3,403.8 L517.5,404.5 L515.6,405.3 L513.8,406.0 L511.9,406.7 L510.0,407.5 L508.2,408.2 L506.3,408.9 L504.5,409.7 L502.6,410.4 L500.7,411.2 L498.9,411.9 L497.0,412.6 L495.2,413.4 L493.3,414.1 L491.5,414.9 L489.6,415.6 L487.7,416.4 L485.9,417.1 L484.0,417.9 L482.2,418.6 L480.3,419.4 L478.5,420.1 L476.6,420.9 L474.8,421.7 L472.9,422.4 L471.1,423.2 L469.2,423.9 L467.4,424.7 L465.5,425.5 L463.7,426.2 L461.8,427.0 L460.0,427.8 L458.1,428.5 L456.3,429.3 L454.4,430.1 L452.6,430.9 L450.7,431.6 L448.9,432.4 L447.0,433.2 L445.2,434.0 L443.3,434.8 L441.5,435.6 L439.6,436.3 L437.8,437.1 L435.9,437.9 L434.1,438.7 L432.3,439.5 L430.4,440.3 L428.6,441.1 L426.7,441.9 L424.9,442.7 L423.0,443.5 L421.2,444.3 L419.4,445.1 L417.5,445.9 L415.7,446.7 L413.8,447.5 L412.0,448.3 L410.2,449.1 L408.3,450.0 L406.5,450.8 L404.6,451.6 L402.8,452.4 L401.0,453.2 L399.1,454.1 L397.3,454.9 L395.5,455.7 L393.6,456.5 L391.8,457.4 L390.0,458.2 L388.1,459.0 L386.3,459.9 L384.5,460.7 L382.6,461.5 L380.8,462.4 L379.0,463.2 L377.1,464.1 L375.3,464.9 L373.5,465.8 L371.6,466.6 L369.8,467.5 L368.0,468.3 L366.1,469.2 L364.3,470.1 L362.5,470.9 L360.6,471.8 L358.8,472.7 L357.0,473.5 L355.2,474.4 L353.4,475.3 L351.6,476.2 L349.8,477.1 L348.0,478.0 L346.2,478.9 L344.4,479.8 L342.6,480.8 L340.8,481.7 L339.0,482.6 L337.3,483.6 L335.5,484.6 L333.7,485.5 L332.0,486.5 L330.3,487.5 L328.5,488.5 L326.8,489.5 L325.1,490.6 L323.4,491.6 L321.7,492.7 L320.1,493.8 L318.4,494.8 L316.8,495.9 L315.1,497.1 L313.5,498.2 L311.9,499.3 L310.3,500.5 L308.7,501.7 L307.1,502.9 L305.6,504.1 L304.0,505.3 L302.5,506.6 L301.0,507.9 L299.5,509.2 L298.1,510.5 L296.6,511.8 L295.2,513.2 L293.8,514.6 L292.4,516.0 L291.1,517.4 L289.8,518.9 L288.5,520.4 L287.2,521.9 L286.0,523.4 L284.7,525.0 L283.5,526.5 L282.4,528.1 L281.2,529.7 L280.1,531.4 L279.0,533.0 L278.0,534.7 L276.9,536.4 L275.9,538.1 L274.9,539.8 L274.0,541.6 L273.0,543.3 L272.1,545.1 L271.2,546.9 L270.4,548.7 L269.5,550.5 L268.7,552.4 L267.9,554.2 L267.2,556.1 L266.5,558.0 L265.7,559.8 L265.1,561.7 L264.4,563.6 L263.8,565.5 L263.2,567.5 L262.6,569.4 L262.0,571.3 L261.5,573.3 L261.0,575.2 L260.5,577.2 L260.0,579.1 L259.6,581.1 L259.1,583.1 L258.7,585.1 L258.3,587.1 L257.9,589.1 L257.6,591.0 L257.2,593.1 L256.9,595.1 L256.6,597.1 L256.3,599.1 L256.0,601.1 L255.7,603.1 L255.5,605.1 L255.2,607.1 L255.0,609.2 L254.8,611.2 L254.6,613.2 L254.3,615.2 L254.1,617.3 L254.0,619.3 L253.8,621.3 L253.6,623.3 L253.4,625.3 L253.2,627.3 L253.1,629.4 L252.9,631.4 L252.8,633.4 L252.6,635.4 L252.4,637.4 L252.3,639.4 L252.1,641.4 L252.0,643.3 L251.8,645.3 L251.7,647.3 L251.5,649.3 L251.4,651.2 L251.2,653.2 L251.0,655.1 L250.9,657.1 L250.7,659.0 L250.5,660.9 L250.3,662.8" stroke="#bc2f33" stroke-width="11" fill="none" stroke-linecap="round" stroke-linejoin="round"/>
<path d="M982.6,116.8 L982.6,118.9 L982.5,121.0 L982.3,123.0 L982.0,124.9 L981.6,126.8 L981.1,128.6 L980.5,130.4 L979.8,132.2 L979.0,133.9 L978.2,135.6 L977.2,137.2 L976.2,138.8 L975.2,140.3 L974.0,141.8 L972.8,143.3 L971.6,144.7 L970.2,146.1 L968.9,147.5 L967.5,148.9 L966.0,150.2 L964.5,151.5 L962.9,152.8 L961.4,154.1 L959.8,155.3 L958.1,156.5 L956.5,157.7 L954.8,158.9 L953.1,160.1 L951.4,161.3 L949.7,162.5 L948.0,163.6 L946.3,164.8 L944.6,165.9 L942.9,167.0 L941.2,168.2 L939.5,169.3 L937.8,170.4 L936.0,171.5 L934.3,172.6 L932.6,173.7 L930.9,174.8 L929.2,175.9 L927.5,177.0 L925.8,178.1 L924.0,179.2 L922.3,180.2 L920.6,181.3 L918.9,182.4 L917.2,183.5 L915.5,184.5 L913.7,185.6 L912.0,186.7 L910.3,187.7 L908.6,188.8 L906.9,189.8 L905.2,190.9 L903.5,191.9 L901.8,193.0 L900.1,194.1 L898.4,195.1 L896.7,196.2 L894.9,197.2 L893.2,198.3 L891.5,199.3 L889.8,200.4 L888.2,201.5 L886.5,202.5 L884.8,203.6 L883.1,204.6 L881.4,205.7 L879.7,206.8 L878.0,207.9 L876.3,208.9 L874.7,210.0 L873.0,211.1 L871.3,212.2 L869.6,213.3 L868.0,214.4 L866.3,215.5 L864.6,216.6 L863.0,217.7 L861.3,218.8 L859.7,219.9 L858.0,221.0 L856.4,222.1 L854.7,223.3 L853.1,224.4 L851.5,225.6 L849.8,226.7 L848.2,227.9 L846.6,229.0 L845.0,230.2 L843.4,231.4 L841.8,232.6 L840.1,233.8 L838.5,235.0 L836.9,236.2 L835.3,237.4 L833.7,238.6 L832.1,239.8 L830.5,241.0 L829.0,242.2 L827.4,243.5 L825.8,244.7 L824.2,245.9 L822.6,247.2 L821.0,248.4 L819.4,249.6 L817.8,250.9 L816.3,252.1 L814.7,253.3 L813.1,254.6 L811.5,255.8 L809.9,257.0 L808.3,258.2 L806.7,259.5 L805.1,260.7 L803.5,261.9 L801.9,263.1 L800.3,264.4 L798.7,265.6 L797.1,266.8 L795.5,268.0 L793.9,269.2 L792.3,270.4 L790.7,271.6 L789.0,272.7 L787.4,273.9 L785.8,275.1 L784.1,276.2 L782.5,277.4 L780.9,278.5 L779.2,279.7 L777.5,280.8 L775.9,281.9 L774.2,283.0 L772.5,284.1 L770.9,285.2 L769.2,286.3 L767.5,287.4 L765.8,288.4 L764.1,289.5 L762.4,290.5 L760.6,291.6 L758.9,292.6 L757.2,293.6 L755.5,294.6 L753.7,295.6 L752.0,296.6 L750.3,297.6 L748.5,298.6 L746.8,299.6 L745.0,300.5 L743.2,301.5 L741.5,302.4 L739.7,303.4 L737.9,304.3 L736.1,305.2 L734.4,306.1 L732.6,307.0 L730.8,307.9 L729.0,308.8 L727.2,309.7 L725.4,310.6 L723.6,311.5 L721.8,312.4 L720.0,313.2 L718.2,314.1 L716.4,315.0 L714.6,315.8 L712.8,316.7 L711.0,317.5 L709.1,318.3 L707.3,319.2 L705.5,320.0 L703.7,320.8 L701.8,321.6 L700.0,322.4 L698.2,323.2 L696.3,324.0 L694.5,324.8 L692.7,325.6 L690.8,326.4 L689.0,327.2 L687.1,328.0 L685.3,328.7 L683.4,329.5 L681.6,330.3 L679.7,331.0 L677.9,331.8 L676.0,332.6 L674.2,333.3 L672.3,334.1 L670.4,334.8 L668.6,335.6 L666.7,336.3 L664.8,337.0 L663.0,337.8 L661.1,338.5 L659.2,339.2 L657.4,340.0 L655.5,340.7 L653.6,341.4 L651.8,342.1 L649.9,342.8 L648.0,343.5 L646.1,344.3 L644.3,345.0 L642.4,345.7 L640.5,346.4 L638.6,347.1 L636.8,347.8 L634.9,348.5 L633.0,349.2 L631.1,349.9 L629.2,350.6 L627.4,351.3 L625.5,352.0 L623.6,352.7 L621.7,353.4 L619.8,354.1 L617.9,354.8 L616.1,355.5 L614.2,356.2 L612.3,356.9 L610.4,357.6 L608.5,358.3 L606.6,359.0 L604.8,359.7 L602.9,360.3 L601.0,361.0 L599.1,361.7 L597.2,362.4 L595.3,363.1 L593.5,363.8 L591.6,364.5 L589.7,365.2 L587.8,365.9 L585.9,366.6 L584.0,367.3 L582.2,368.0 L580.3,368.7 L578.4,369.4 L576.5,370.1 L574.6,370.8 L572.8,371.5 L570.9,372.2 L569.0,372.9 L567.1,373.6 L565.2,374.3 L563.4,375.0 L561.5,375.7 L559.6,376.4 L557.7,377.1 L555.8,377.8 L554.0,378.5 L552.1,379.3 L550.2,380.0 L548.3,380.7 L546.5,381.4 L544.6,382.1 L542.7,382.8 L540.8,383.5 L539.0,384.2 L537.1,384.9 L535.2,385.7 L533.3,386.4 L531.5,387.1 L529.6,387.8 L527.7,388.5 L525.8,389.3 L524.0,390.0 L522.1,390.7 L520.2,391.4 L518.4,392.2 L516.5,392.9 L514.6,393.6 L512.8,394.3 L510.9,395.1 L509.0,395.8 L507.2,396.5 L505.3,397.3 L503.4,398.0 L501.6,398.8 L499.7,399.5 L497.8,400.2 L496.0,401.0 L494.1,401.7 L492.3,402.5 L490.4,403.2 L488.5,404.0 L486.7,404.7 L484.8,405.5 L483.0,406.2 L481.1,407.0 L479.2,407.8 L477.4,408.5 L475.5,409.3 L473.7,410.0 L471.8,410.8 L470.0,411.6 L468.1,412.4 L466.3,413.1 L464.4,413.9 L462.6,414.7 L460.7,415.5 L458.9,416.2 L457.0,417.0 L455.2,417.8 L453.3,418.6 L451.5,419.4 L449.7,420.2 L447.8,421.0 L446.0,421.8 L444.1,422.6 L442.3,423.4 L440.5,424.2 L438.6,425.0 L436.8,425.8 L435.0,426.6 L433.1,427.4 L431.3,428.2 L429.5,429.0 L427.6,429.9 L425.8,430.7 L424.0,431.5 L422.1,432.3 L420.3,433.2 L418.5,434.0 L416.7,434.8 L414.8,435.7 L413.0,436.5 L411.2,437.4 L409.4,438.2 L407.6,439.0 L405.7,439.9 L403.9,440.8 L402.1,441.6 L400.3,442.5 L398.5,443.3 L396.7,444.2 L394.9,445.1 L393.1,445.9 L391.3,446.8 L389.4,447.7 L387.6,448.6 L385.8,449.5 L384.0,450.4 L382.2,451.2 L380.4,452.1 L378.6,453.0 L376.8,453.9 L375.0,454.8 L373.2,455.8 L371.5,456.7 L369.7,457.6 L367.9,458.5 L366.1,459.4 L364.3,460.3 L362.5,461.3 L360.7,462.2 L358.9,463.1 L357.2,464.1 L355.4,465.0 L353.6,466.0 L351.8,466.9 L350.0,467.9 L348.3,468.8 L346.5,469.8 L344.7,470.7 L343.0,471.7 L341.2,472.7 L339.4,473.7 L337.7,474.6 L335.9,475.6 L334.1,476.6 L332.4,477.6 L330.6,478.6 L328.9,479.6 L327.1,480.6 L325.4,481.6 L323.6,482.6 L321.9,483.7 L320.2,484.7 L318.5,485.8 L316.8,486.8 L315.1,487.9 L313.4,489.0 L311.7,490.1 L310.1,491.2 L308.4,492.3 L306.8,493.5 L305.2,494.7 L303.6,495.9 L302.0,497.1 L300.5,498.3 L298.9,499.5 L297.4,500.8 L295.9,502.1 L294.5,503.4 L293.0,504.7 L291.6,506.1 L290.2,507.4 L288.8,508.8 L287.5,510.3 L286.2,511.7 L284.9,513.2 L283.6,514.7 L282.4,516.3 L281.2,517.9 L280.0,519.5 L278.9,521.1 L277.7,522.8 L276.7,524.4 L275.6,526.1 L274.6,527.9 L273.6,529.6 L272.6,531.4 L271.7,533.2 L270.8,535.0 L269.9,536.8 L269.0,538.7 L268.2,540.5 L267.3,542.4 L266.6,544.3 L265.8,546.2 L265.1,548.1 L264.3,550.0 L263.7,551.9 L263.0,553.9 L262.3,555.8 L261.7,557.8 L261.1,559.7 L260.5,561.7 L260.0,563.6 L259.5,565.6 L258.9,567.5 L258.4,569.5 L258.0,571.4 L257.5,573.4 L257.1,575.4 L256.7,577.3 L256.2,579.3 L255.9,581.3 L255.5,583.2 L255.1,585.2 L254.8,587.2 L254.5,589.2 L254.2,591.2 L253.9,593.1 L253.6,595.1 L253.3,597.1 L253.0,599.1 L252.8,601.1 L252.6,603.1 L252.3,605.1 L252.1,607.0 L251.9,609.0 L251.7,611.0 L251.5,613.0 L251.3,615.0 L251.2,617.0 L251.0,619.0 L250.8,621.0 L250.7,623.0 L250.5,625.0 L250.4,627.0 L250.2,629.0 L250.1,631.0 L249.9,633.0 L249.8,635.0 L249.7,637.0 L249.6,639.0 L249.4,641.0 L249.3,643.0 L249.2,645.0 L249.0,647.0 L248.9,649.0 L248.8,651.0 L248.7,653.0 L248.5,655.0 L248.4,657.0 L248.2,659.0 L248.1,661.0 L248.0,663.0" stroke="#bc2f33" stroke-width="11" fill="none" stroke-linecap="round" stroke-linejoin="round"/>
<path d="M787.2,203.5 L789.7,203.4 L792.1,203.6 L794.3,204.1 L796.4,204.8 L798.1,205.8 L799.7,206.9 L801.0,208.2 L801.9,209.7 L802.6,211.2 L802.8,212.7 L802.7,214.4 L802.3,216.0 L801.5,217.6 L800.5,219.2 L799.3,220.8 L798.0,222.4 L796.5,223.9 L795.0,225.5 L793.4,226.9 L791.9,228.3 L790.3,229.7 L788.7,231.0 L787.1,232.3 L785.5,233.6 L783.9,234.8 L782.2,236.0 L780.5,237.2 L778.8,238.3 L777.1,239.4 L775.4,240.4 L773.7,241.5 L772.0,242.5 L770.2,243.4 L768.4,244.4 L766.7,245.3 L764.9,246.2 L763.1,247.1 L761.3,248.0 L759.5,248.9 L757.7,249.7 L755.9,250.6 L754.1,251.4 L752.3,252.2 L750.4,253.1 L748.6,253.9 L746.8,254.7 L744.9,255.5 L743.1,256.3 L741.3,257.1 L739.5,257.9 L737.6,258.7 L735.8,259.5 L734.0,260.3 L732.1,261.1 L730.3,261.9 L728.5,262.8 L726.7,263.6 L724.8,264.4 L723.0,265.3 L721.2,266.1 L719.4,267.0 L717.6,267.8 L715.8,268.7 L713.9,269.5 L712.1,270.4 L710.3,271.3 L708.5,272.1 L706.7,273.0 L704.9,273.9 L703.1,274.8 L701.3,275.7 L699.5,276.6 L697.8,277.5 L696.0,278.4 L694.2,279.3 L692.4,280.2 L690.6,281.2 L688.9,282.1 L687.1,283.0 L685.3,284.0 L683.6,284.9 L681.8,285.9 L680.0,286.8 L678.3,287.8 L676.5,288.8 L674.8,289.8 L673.0,290.8 L671.3,291.8 L669.6,292.8 L667.8,293.8 L666.1,294.8 L664.4,295.8 L662.7,296.8 L661.0,297.9 L659.3,298.9 L657.6,300.0 L655.9,301.0 L654.2,302.1 L652.5,303.2 L650.8,304.2 L649.1,305.3 L647.4,306.4 L645.7,307.5 L644.0,308.5 L642.3,309.6 L640.7,310.7 L639.0,311.8 L637.3,312.9 L635.6,314.0 L633.9,315.0 L632.2,316.1 L630.6,317.2 L628.9,318.3 L627.2,319.4 L625.5,320.5 L623.8,321.5 L622.1,322.6 L620.4,323.7 L618.7,324.7 L617.0,325.8 L615.3,326.8 L613.6,327.9 L611.9,328.9 L610.2,329.9 L608.5,331.0 L606.8,332.0 L605.0,333.0 L603.3,334.0 L601.6,335.0 L599.8,336.0 L598.1,336.9 L596.4,337.9 L594.6,338.9 L592.8,339.8 L591.1,340.8 L589.3,341.7 L587.6,342.7 L585.8,343.6 L584.0,344.5 L582.2,345.4 L580.5,346.4 L578.7,347.3 L576.9,348.2 L575.1,349.1 L573.3,350.0 L571.5,350.8 L569.7,351.7 L567.9,352.6 L566.1,353.5 L564.3,354.3 L562.5,355.2 L560.7,356.1 L558.9,356.9 L557.1,357.8 L555.2,358.6 L553.4,359.5 L551.6,360.3 L549.8,361.1 L547.9,362.0 L546.1,362.8 L544.3,363.6 L542.4,364.4 L540.6,365.2 L538.8,366.1 L536.9,366.9 L535.1,367.7 L533.3,368.5 L531.4,369.3 L529.6,370.1 L527.7,370.9 L525.9,371.7 L524.0,372.5 L522.2,373.3 L520.3,374.0 L518.5,374.8 L516.6,375.6 L514.8,376.4 L512.9,377.2 L511.1,378.0 L509.2,378.7 L507.3,379.5 L505.5,380.3 L503.6,381.1 L501.8,381.9 L499.9,382.6 L498.1,383.4 L496.2,384.2 L494.3,385.0 L492.5,385.7 L490.6,386.5 L488.8,387.3 L486.9,388.1 L485.1,388.8 L483.2,389.6 L481.3,390.4 L479.5,391.2 L477.6,391.9 L475.8,392.7 L473.9,393.5 L472.1,394.3 L470.2,395.1 L468.4,395.9 L466.5,396.6 L464.7,397.4 L462.8,398.2 L461.0,399.0 L459.1,399.8 L457.3,400.6 L455.4,401.4 L453.6,402.2 L451.8,403.0 L449.9,403.8 L448.1,404.6 L446.2,405.4 L444.4,406.2 L442.6,407.0 L440.7,407.9 L438.9,408.7 L437.1,409.5 L435.3,410.3 L433.4,411.2 L431.6,412.0 L429.8,412.9 L428.0,413.7 L426.2,414.6 L424.4,415.4 L422.6,416.3 L420.8,417.1 L418.9,418.0 L417.1,418.8 L415.3,419.7 L413.5,420.6 L411.7,421.5 L409.9,422.3 L408.2,423.2 L406.4,424.1 L404.6,425.0 L402.8,425.9 L401.0,426.8 L399.2,427.7 L397.4,428.6 L395.6,429.5 L393.9,430.4 L392.1,431.3 L390.3,432.2 L388.5,433.2 L386.7,434.1 L385.0,435.0 L383.2,436.0 L381.4,436.9 L379.7,437.8 L377.9,438.8 L376.1,439.7 L374.4,440.7 L372.6,441.7 L370.9,442.6 L369.1,443.6 L367.3,444.6 L365.6,445.5 L363.8,446.5 L362.1,447.5 L360.3,448.5 L358.6,449.5 L356.8,450.5 L355.1,451.5 L353.3,452.5 L351.6,453.5 L349.9,454.5 L348.1,455.5 L346.4,456.5 L344.6,457.5 L342.9,458.6 L341.2,459.6 L339.4,460.6 L337.7,461.7 L336.0,462.7 L334.2,463.7 L332.5,464.8 L330.8,465.9 L329.1,466.9 L327.3,468.0 L325.6,469.1 L323.9,470.1 L322.2,471.2 L320.5,472.3 L318.8,473.4 L317.1,474.6 L315.5,475.7 L313.8,476.8 L312.2,478.0 L310.5,479.1 L308.9,480.3 L307.3,481.5 L305.7,482.7 L304.1,483.9 L302.6,485.2 L301.0,486.4 L299.5,487.7 L298.0,489.0 L296.5,490.3 L295.0,491.6 L293.6,493.0 L292.2,494.3 L290.8,495.7 L289.4,497.1 L288.0,498.5 L286.7,500.0 L285.4,501.4 L284.1,502.9 L282.9,504.5 L281.7,506.0 L280.5,507.6 L279.3,509.2 L278.2,510.8 L277.1,512.4 L276.1,514.1 L275.0,515.8 L274.0,517.5 L273.1,519.3 L272.1,521.1 L271.2,522.9 L270.4,524.7 L269.5,526.6 L268.7,528.5 L267.9,530.3 L267.2,532.2 L266.4,534.2 L265.7,536.1 L265.0,538.0 L264.4,540.0 L263.7,542.0 L263.1,543.9 L262.5,545.9 L261.9,547.9 L261.3,549.9 L260.8,551.9 L260.2,553.8 L259.7,555.8 L259.2,557.8 L258.7,559.8 L258.2,561.8 L257.7,563.7 L257.2,565.7 L256.8,567.7 L256.3,569.6 L255.9,571.6 L255.5,573.6 L255.0,575.5 L254.6,577.5 L254.3,579.5 L253.9,581.4 L253.5,583.4 L253.2,585.3 L252.8,587.3 L252.5,589.2 L252.2,591.2 L251.8,593.2 L251.5,595.1 L251.2,597.1 L251.0,599.0 L250.7,601.0 L250.4,603.0 L250.2,604.9 L249.9,606.9 L249.7,608.8 L249.5,610.8 L249.3,612.8 L249.1,614.8 L248.9,616.7 L248.7,618.7 L248.5,620.7 L248.3,622.7 L248.2,624.6 L248.0,626.6 L247.9,628.6 L247.7,630.6 L247.6,632.6 L247.5,634.6 L247.4,636.6 L247.3,638.6 L247.2,640.6 L247.1,642.7 L247.0,644.7 L246.9,646.7 L246.9,648.7 L246.8,650.8 L246.8,652.8 L246.7,654.9 L246.7,656.9 L246.7,659.0 L246.6,661.1 L246.6,663.1" stroke="#bc2f33" stroke-width="11" fill="none" stroke-linecap="round" stroke-linejoin="round"/>
<path d="M245.2,663.0 L245.0,640.1 L245.0,638.1 L245.1,636.1 L245.1,634.1 L245.1,632.1 L245.1,630.0 L245.1,628.0 L245.2,626.0 L245.2,624.0 L245.2,622.0 L245.2,619.9 L245.2,617.9 L245.2,615.9 L245.2,613.9 L245.2,611.9 L245.1,609.9 L245.1,607.8 L245.1,605.8 L245.1,603.8 L245.1,601.8 L245.1,599.8 L245.1,597.8 L245.1,595.8 L245.0,593.7 L245.0,591.7 L245.0,589.7 L245.0,587.7 L245.0,585.7 L245.0,583.7 L245.0,581.7 L245.0,579.7 L244.9,577.7 L244.9,575.7 L244.9,573.7 L244.9,571.6 L244.9,569.6 L244.9,567.6 L244.9,565.6 L245.0,563.6 L245.0,561.6 L245.0,559.6 L245.0,557.6 L245.0,555.6 L245.0,553.7 L245.1,551.7 L245.1,549.7 L245.1,547.7 L245.2,545.7 L245.2,543.7 L245.3,541.7 L245.3,539.7 L245.4,537.7 L245.5,535.7 L245.5,533.8 L245.6,531.8 L245.7,529.8 L245.8,527.8 L245.9,525.8 L246.0,523.9 L246.1,521.9 L246.2,519.9 L246.4,517.9 L246.5,516.0 L246.7,514.0 L246.8,512.0 L247.0,510.1 L247.1,508.1 L247.3,506.1 L247.5,504.2 L247.7,502.2 L247.9,500.3 L248.1,498.3 L248.3,496.4 L248.5,494.4 L248.8,492.5 L249.0,490.5 L249.3,488.6 L249.6,486.6 L249.8,484.7 L250.1,482.7 L250.4,480.8 L250.7,478.9 L251.1,476.9 L251.4,475.0 L251.8,473.1 L252.1,471.1 L252.5,469.2 L252.9,467.3 L253.3,465.4 L253.7,463.4 L254.1,461.5 L254.5,459.6 L255.0,457.7 L255.4,455.8 L255.9,453.9 L256.4,452.0 L256.9,450.0 L257.4,448.1 L257.9,446.2 L258.5,444.3 L259.0,442.4 L259.6,440.5 L260.2,438.7 L260.8,436.8 L261.4,434.9 L262.1,433.0 L262.7,431.1 L263.4,429.3 L264.1,427.4 L264.8,425.5 L265.5,423.7 L266.2,421.9 L267.0,420.0 L267.7,418.2 L268.5,416.4 L269.3,414.6 L270.2,412.8 L271.0,411.1 L271.9,409.3 L272.7,407.6 L273.6,405.9 L274.6,404.1 L275.5,402.4 L276.5,400.8 L277.4,399.1 L278.4,397.5 L279.5,395.8 L280.5,394.2 L281.6,392.6 L282.6,391.1 L283.8,389.5 L284.9,388.0 L286.0,386.5 L287.2,385.0 L288.4,383.6 L289.6,382.1 L290.9,380.7 L292.1,379.3 L293.4,378.0 L294.7,376.6 L296.1,375.3 L297.4,374.0 L298.8,372.7 L300.2,371.5 L301.7,370.3 L303.1,369.1 L304.6,367.9 L306.1,366.7 L307.6,365.6 L309.2,364.5 L310.7,363.4 L312.3,362.3 L313.9,361.3 L315.5,360.2 L317.2,359.2 L318.8,358.2 L320.5,357.2 L322.2,356.2 L323.9,355.2 L325.6,354.2 L327.3,353.3 L329.0,352.4 L330.7,351.4 L332.5,350.5 L334.2,349.6 L336.0,348.7 L337.7,347.8 L339.5,346.9 L341.3,346.1 L343.1,345.2 L344.9,344.4 L346.7,343.5 L348.5,342.7 L350.3,341.8 L352.1,341.0 L353.9,340.2 L355.7,339.4 L357.6,338.6 L359.4,337.8 L361.2,337.0 L363.1,336.2 L364.9,335.4 L366.8,334.6 L368.6,333.8 L370.5,333.1 L372.3,332.3 L374.2,331.5 L376.0,330.7 L377.9,330.0 L379.8,329.2 L381.6,328.4 L383.5,327.7 L385.4,326.9 L387.2,326.1 L389.1,325.4 L391.0,324.6 L392.8,323.8 L394.7,323.0 L396.6,322.3 L398.4,321.5 L400.3,320.7 L402.2,319.9 L404.0,319.1 L405.9,318.3 L407.7,317.5 L409.6,316.7 L411.4,316.0 L413.2,315.2 L415.1,314.4 L416.9,313.6 L418.7,312.8 L420.6,312.0 L422.4,311.3 L424.2,310.5 L426.0,309.8 L427.9,309.0 L429.7,308.3 L431.5,307.6 L433.3,306.8 L435.1,306.1 L437.0,305.5 L438.8,304.8 L440.6,304.1 L442.5,303.5 L444.3,302.9 L446.2,302.3 L448.0,301.7 L449.9,301.1 L451.8,300.5 L453.7,300.0 L455.5,299.4 L457.4,298.9 L459.3,298.4 L461.2,297.8 L463.1,297.3 L465.1,296.8 L467.0,296.3 L468.9,295.8 L470.8,295.4 L472.8,294.9 L474.7,294.4 L476.7,293.9 L478.6,293.5 L480.6,293.0 L482.5,292.5 L484.5,292.1 L486.4,291.6 L488.4,291.2 L490.3,290.7 L492.3,290.2 L494.3,289.8 L496.2,289.3 L498.2,288.8 L500.2,288.3 L502.1,287.8 L504.1,287.4 L506.1,286.9 L508.0,286.4 L510.0,285.9 L511.9,285.3 L513.9,284.8 L515.8,284.3 L517.8,283.8 L519.8,283.3 L521.7,282.7 L523.6,282.2 L525.6,281.7 L527.5,281.1 L529.5,280.6 L531.4,280.0 L533.4,279.5 L535.3,278.9 L537.2,278.4 L539.2,277.8 L541.1,277.2 L543.0,276.7 L545.0,276.1 L546.9,275.6 L548.8,275.0 L550.8,274.4 L552.7,273.8 L554.6,273.3 L556.5,272.7 L558.5,272.1 L560.4,271.5 L562.3,271.0 L564.2,270.4 L566.2,269.8 L568.1,269.2 L570.0,268.7 L571.9,268.1 L573.8,267.5 L575.8,266.9 L577.7,266.4 L579.6,265.8 L581.5,265.2 L583.4,264.6 L585.3,264.1 L587.3,263.5 L589.2,262.9 L591.1,262.4 L593.0,261.8 L594.9,261.2 L596.9,260.7 L598.8,260.1 L600.7,259.5 L602.6,259.0 L604.5,258.4 L606.4,257.9 L608.4,257.3 L610.3,256.8 L612.2,256.2 L614.1,255.7 L616.0,255.2 L618.0,254.6 L619.9,254.1 L621.8,253.6 L623.7,253.1 L625.7,252.6 L627.6,252.0 L629.5,251.5 L631.5,251.0 L633.4,250.5 L635.3,250.0 L637.2,249.5 L639.2,249.0 L641.1,248.6 L643.1,248.1 L645.0,247.6 L646.9,247.1 L648.9,246.6 L650.8,246.2 L652.8,245.7 L654.7,245.2 L656.6,244.8 L658.6,244.3 L660.5,243.8 L662.5,243.4 L664.4,242.9 L666.4,242.5 L668.3,242.0 L670.3,241.6 L672.2,241.1 L674.2,240.7 L676.1,240.2 L678.1,239.8 L680.1,239.3 L682.0,238.9 L684.0,238.4 L685.9,238.0 L687.9,237.5 L689.8,237.1 L691.8,236.7 L693.7,236.2 L695.7,235.8 L697.7,235.3 L699.6,234.9 L701.6,234.4 L703.5,234.0 L705.5,233.6 L707.5,233.1 L709.4,232.7 L711.4,232.2 L713.3,231.8 L715.3,231.3 L717.3,230.9 L719.2,230.4 L721.2,230.0 L723.1,229.5 L725.1,229.1 L727.1,228.6 L729.0,228.2 L731.0,227.7 L732.9,227.3 L734.9,226.8 L736.9,226.3 L738.8,225.9 L740.8,225.4 L742.7,224.9 L744.7,224.5 L746.7,224.0 L748.6,223.5 L750.6,223.0 L752.5,222.5 L754.5,222.1 L756.4,221.6 L758.4,221.1 L760.3,220.6 L762.3,220.1 L764.2,219.6 L766.2,219.1 L768.2,218.6 L770.1,218.0 L772.0,217.5 L774.0,217.0 L775.9,216.5 L777.9,215.9 L779.8,215.4 L781.8,214.9 L783.7,214.3 L785.7,213.8 L787.6,213.2 L789.5,212.6 L791.5,212.1" stroke="#bc2f33" stroke-width="11" fill="none" stroke-linecap="round" stroke-linejoin="round"/>
<path d="M246.8,663.0 L246.5,639.8 L246.6,637.8 L246.6,635.8 L246.7,633.8 L246.8,631.9 L246.8,629.9 L246.9,627.9 L246.9,625.9 L246.9,624.0 L247.0,622.0 L247.0,620.0 L247.0,618.0 L247.0,616.0 L247.0,614.0 L247.0,612.0 L247.0,610.0 L247.0,608.0 L247.0,606.0 L247.0,604.0 L247.0,602.0 L247.0,600.0 L246.9,598.0 L246.9,596.0 L246.9,594.0 L246.9,592.0 L246.9,590.0 L246.8,587.9 L246.8,585.9 L246.8,583.9 L246.7,581.9 L246.7,579.9 L246.7,577.8 L246.7,575.8 L246.6,573.8 L246.6,571.8 L246.6,569.8 L246.6,567.7 L246.6,565.7 L246.6,563.7 L246.6,561.6 L246.5,559.6 L246.5,557.6 L246.5,555.6 L246.6,553.5 L246.6,551.5 L246.6,549.5 L246.6,547.5 L246.6,545.4 L246.7,543.4 L246.7,541.4 L246.7,539.3 L246.8,537.3 L246.9,535.3 L246.9,533.3 L247.0,531.2 L247.1,529.2 L247.2,527.2 L247.3,525.2 L247.4,523.1 L247.5,521.1 L247.6,519.1 L247.7,517.1 L247.9,515.0 L248.0,513.0 L248.2,511.0 L248.4,509.0 L248.6,507.0 L248.8,505.0 L249.0,502.9 L249.2,500.9 L249.5,498.9 L249.7,496.9 L250.0,494.9 L250.2,492.9 L250.5,490.9 L250.8,488.9 L251.2,486.9 L251.5,484.9 L251.8,482.9 L252.2,480.9 L252.6,478.9 L253.0,476.9 L253.4,474.9 L253.8,472.9 L254.3,471.0 L254.7,469.0 L255.2,467.0 L255.7,465.0 L256.2,463.0 L256.7,461.1 L257.3,459.1 L257.9,457.1 L258.5,455.2 L259.1,453.2 L259.7,451.3 L260.4,449.3 L261.0,447.4 L261.7,445.4 L262.4,443.5 L263.2,441.5 L263.9,439.6 L264.7,437.7 L265.5,435.8 L266.3,433.9 L267.1,432.0 L267.9,430.1 L268.7,428.2 L269.6,426.3 L270.4,424.4 L271.3,422.6 L272.2,420.7 L273.1,418.8 L274.0,417.0 L274.9,415.1 L275.9,413.3 L276.8,411.4 L277.8,409.6 L278.8,407.7 L279.8,405.9 L280.8,404.1 L281.9,402.3 L282.9,400.5 L284.0,398.7 L285.2,397.0 L286.4,395.2 L287.6,393.5 L288.8,391.8 L290.0,390.2 L291.3,388.5 L292.7,386.9 L294.0,385.3 L295.4,383.8 L296.9,382.2 L298.4,380.8 L299.9,379.3 L301.4,377.9 L303.0,376.5 L304.6,375.2 L306.3,373.9 L307.9,372.6 L309.6,371.4 L311.3,370.2 L313.1,369.1 L314.8,367.9 L316.6,366.8 L318.4,365.8 L320.2,364.8 L322.0,363.8 L323.8,362.8 L325.6,361.8 L327.5,360.9 L329.3,360.0 L331.2,359.1 L333.0,358.2 L334.9,357.3 L336.7,356.5 L338.6,355.6 L340.5,354.8 L342.4,354.0 L344.2,353.2 L346.1,352.4 L348.0,351.7 L349.9,350.9 L351.8,350.1 L353.7,349.4 L355.6,348.7 L357.5,347.9 L359.4,347.2 L361.3,346.5 L363.2,345.8 L365.1,345.1 L367.0,344.4 L368.9,343.7 L370.8,343.0 L372.7,342.3 L374.6,341.6 L376.5,340.9 L378.4,340.2 L380.3,339.5 L382.2,338.8 L384.1,338.1 L385.9,337.4 L387.8,336.7 L389.7,336.0 L391.5,335.3 L393.4,334.6 L395.2,333.8 L397.1,333.1 L398.9,332.4 L400.7,331.6 L402.6,330.8 L404.4,330.1 L406.2,329.3 L408.0,328.5 L409.9,327.7 L411.7,326.9 L413.5,326.1 L415.3,325.3 L417.2,324.5 L419.0,323.7 L420.8,322.9 L422.7,322.1 L424.5,321.3 L426.4,320.5 L428.2,319.7 L430.1,318.9 L432.0,318.2 L433.8,317.4 L435.7,316.7 L437.6,315.9 L439.5,315.2 L441.4,314.5 L443.3,313.8 L445.2,313.1 L447.1,312.4 L449.1,311.7 L451.0,311.1 L452.9,310.4 L454.8,309.8 L456.8,309.2 L458.7,308.6 L460.6,307.9 L462.6,307.3 L464.5,306.8 L466.5,306.2 L468.4,305.6 L470.3,305.0 L472.3,304.5 L474.2,303.9 L476.2,303.3 L478.1,302.8 L480.1,302.2 L482.0,301.7 L484.0,301.2 L485.9,300.6 L487.9,300.1 L489.8,299.6 L491.7,299.0 L493.7,298.5 L495.6,298.0 L497.6,297.4 L499.5,296.9 L501.4,296.4 L503.4,295.8 L505.3,295.3 L507.3,294.8 L509.2,294.2 L511.1,293.7 L513.1,293.1 L515.0,292.6 L516.9,292.1 L518.9,291.5 L520.8,291.0 L522.7,290.4 L524.7,289.9 L526.6,289.3 L528.5,288.8 L530.4,288.2 L532.4,287.7 L534.3,287.1 L536.2,286.6 L538.2,286.1 L540.1,285.5 L542.0,285.0 L544.0,284.4 L545.9,283.9 L547.8,283.3 L549.8,282.8 L551.7,282.2 L553.6,281.7 L555.6,281.1 L557.5,280.6 L559.4,280.0 L561.4,279.5 L563.3,278.9 L565.2,278.4 L567.2,277.8 L569.1,277.3 L571.0,276.8 L573.0,276.2 L574.9,275.7 L576.8,275.1 L578.8,274.6 L580.7,274.0 L582.6,273.5 L584.6,273.0 L586.5,272.4 L588.4,271.9 L590.4,271.4 L592.3,270.8 L594.2,270.3 L596.2,269.8 L598.1,269.2 L600.1,268.7 L602.0,268.2 L603.9,267.7 L605.9,267.2 L607.8,266.6 L609.8,266.1 L611.7,265.6 L613.7,265.1 L615.6,264.6 L617.5,264.1 L619.5,263.6 L621.4,263.0 L623.4,262.5 L625.3,262.0 L627.3,261.5 L629.2,261.0 L631.2,260.6 L633.1,260.1 L635.1,259.6 L637.1,259.1 L639.0,258.6 L641.0,258.1 L642.9,257.6 L644.9,257.2 L646.8,256.7 L648.8,256.2 L650.8,255.8 L652.7,255.3 L654.7,254.8 L656.6,254.4 L658.6,253.9 L660.6,253.5 L662.5,253.0 L664.5,252.6 L666.5,252.1 L668.4,251.7 L670.4,251.2 L672.3,250.8 L674.3,250.3 L676.3,249.9 L678.2,249.4 L680.2,249.0 L682.1,248.6 L684.1,248.1 L686.1,247.7 L688.0,247.2 L690.0,246.8 L691.9,246.3 L693.9,245.9 L695.8,245.4 L697.8,245.0 L699.7,244.5 L701.7,244.1 L703.6,243.6 L705.6,243.2 L707.5,242.7 L709.5,242.2 L711.4,241.8 L713.4,241.3 L715.3,240.8 L717.2,240.3 L719.2,239.8 L721.1,239.4 L723.0,238.9 L725.0,238.4 L726.9,237.9 L728.8,237.4 L730.8,236.9 L732.7,236.3 L734.6,235.8 L736.5,235.3 L738.4,234.8 L740.4,234.2 L742.3,233.7 L744.2,233.1 L746.1,232.6 L748.0,232.0 L749.9,231.4 L751.8,230.8 L753.7,230.3 L755.6,229.7 L757.5,229.1 L759.3,228.4 L761.2,227.8 L763.1,227.2 L765.0,226.6 L766.9,225.9 L768.7,225.3 L770.6,224.6 L772.5,223.9 L774.3,223.2 L776.2,222.5 L778.1,221.8" stroke="#bc2f33" stroke-width="11" fill="none" stroke-linecap="round" stroke-linejoin="round"/>
<path d="M790.4,211.9 L791.2,210.8 L792.2,209.7 L793.4,208.7 L794.8,207.8 L796.3,206.9 L798.0,206.0 L799.7,205.1 L801.6,204.3 L803.6,203.5 L805.6,202.7 L807.6,201.8 L809.6,201.0 L811.7,200.2 L813.7,199.3 L815.6,198.4 L817.5,197.5 L819.4,196.6 L821.3,195.7 L823.2,194.8 L825.0,193.9 L826.8,192.9 L828.6,192.0 L830.4,191.1 L832.3,190.1 L834.1,189.2 L835.9,188.3 L837.7,187.4 L839.5,186.4 L841.3,185.5 L843.1,184.6 L844.9,183.7 L846.7,182.8 L848.6,181.8 L850.4,180.9 L852.2,180.0 L854.0,179.1 L855.8,178.2 L857.6,177.3 L859.4,176.3 L861.2,175.4 L863.0,174.5 L864.8,173.6 L866.6,172.6 L868.4,171.7 L870.2,170.8 L872.0,169.8 L873.8,168.9 L875.6,167.9 L877.4,167.0 L879.2,166.0 L881.0,165.1 L882.8,164.1 L884.6,163.1 L886.4,162.2 L888.2,161.2 L889.9,160.2 L891.7,159.2 L893.5,158.2 L895.3,157.2 L897.0,156.2 L898.8,155.2 L900.6,154.1 L902.4,153.1 L904.1,152.1 L905.9,151.0 L907.7,150.0 L909.4,149.0 L911.2,147.9 L913.0,146.9 L914.7,145.8 L916.5,144.8 L918.3,143.8 L920.0,142.7 L921.8,141.7 L923.6,140.7 L925.3,139.6 L927.1,138.6 L928.9,137.6 L930.7,136.6 L932.5,135.6 L934.2,134.6 L936.0,133.6 L937.8,132.6 L939.6,131.7 L941.4,130.7 L943.2,129.8 L945.0,128.8 L946.8,127.9 L948.6,127.0 L950.5,126.1 L952.3,125.2 L954.1,124.4 L955.9,123.5 L957.8,122.7 L959.6,121.9 L961.5,121.1 L963.4,120.3 L965.2,119.5 L967.1,118.8 L969.0,118.1 L970.9,117.5 L972.8,117.0 L974.8,116.6 L976.8,116.4 L978.8,116.4 L980.9,116.6" stroke="#bc2f33" stroke-width="11" fill="none" stroke-linecap="round" stroke-linejoin="round"/>
<path d="M778.2,222.1 L780.0,221.3 L781.9,220.5 L783.7,219.6 L785.5,218.8 L787.3,217.9 L789.2,217.1 L791.0,216.3 L792.8,215.4 L794.6,214.6 L796.5,213.7 L798.3,212.9 L800.1,212.0 L801.9,211.2 L803.8,210.3 L805.6,209.4 L807.4,208.6 L809.2,207.7 L811.0,206.9 L812.8,206.0 L814.6,205.1 L816.5,204.2 L818.3,203.4 L820.1,202.5 L821.9,201.6 L823.7,200.7 L825.5,199.9 L827.3,199.0 L829.1,198.1 L830.9,197.2 L832.7,196.3 L834.5,195.4 L836.3,194.6 L838.1,193.7 L840.0,192.8 L841.8,191.9 L843.6,191.0 L845.4,190.1 L847.1,189.2 L848.9,188.3 L850.7,187.4 L852.5,186.5 L854.3,185.5 L856.1,184.6 L857.9,183.7 L859.7,182.8 L861.5,181.9 L863.3,181.0 L865.1,180.1 L866.9,179.1 L868.7,178.2 L870.4,177.3 L872.2,176.4 L874.0,175.4 L875.8,174.5 L877.6,173.6 L879.4,172.7 L881.2,171.7 L882.9,170.8 L884.7,169.9 L886.5,168.9 L888.3,168.0 L890.1,167.0 L891.8,166.1 L893.6,165.1 L895.4,164.2 L897.2,163.2 L898.9,162.3 L900.7,161.3 L902.5,160.4 L904.2,159.4 L906.0,158.5 L907.8,157.5 L909.6,156.6 L911.3,155.6 L913.1,154.6 L914.9,153.7 L916.6,152.7 L918.4,151.7 L920.1,150.8 L921.9,149.8 L923.7,148.8 L925.4,147.9 L927.2,146.9 L929.0,145.9 L930.7,144.9 L932.5,143.9 L934.2,143.0 L936.0,142.0 L937.7,141.0 L939.5,140.0 L941.2,139.0 L943.0,138.0 L944.8,137.0 L946.5,136.0 L948.3,135.1 L950.0,134.1 L951.8,133.1 L953.5,132.1 L955.2,131.1 L957.0,130.1 L958.7,129.1 L960.5,128.1 L962.2,127.1 L964.0,126.0 L965.7,125.0 L967.5,124.0 L969.2,123.0 L970.9,122.0 L972.7,121.0 L974.4,120.0 L976.2,119.0 L977.9,117.9 L979.6,116.9 L981.4,115.9 L983.1,114.9 L984.8,113.9 L986.6,112.8 L988.3,111.8 L990.0,110.8 L991.8,109.7 L993.5,108.7 L995.2,107.7 L996.9,106.7 L998.7,105.6 L1000.4,104.6 L1002.1,103.5 L1003.8,102.5 L1005.6,101.5 L1007.3,100.4 L1009.0,99.4 L1010.7,98.3 L1012.5,97.3 L1014.2,96.2 L1015.9,95.2 L1017.6,94.2 L1019.3,93.1 L1021.0,92.0 L1022.8,91.0 L1024.5,89.9 L1026.2,88.9 L1027.9,87.8 L1029.6,86.8 L1031.3,85.7 L1033.0,84.7 L1034.7,83.6 L1036.5,82.5 L1038.2,81.5 L1039.9,80.4 L1041.6,79.3 L1043.3,78.3 L1045.0,77.2 L1046.7,76.1 L1048.4,75.1 L1050.1,74.0 L1051.8,72.9 L1053.5,71.8 L1055.2,70.8 L1056.9,69.7 L1058.6,68.6 L1060.3,67.5 L1062.0,66.4 L1063.7,65.4 L1065.4,64.3 L1067.1,63.2 L1068.8,62.1 L1070.5,61.0 L1072.2,59.9 L1073.9,58.9 L1075.6,57.8 L1077.3,56.7 L1078.9,55.6 L1080.6,54.5 L1082.3,53.4 L1084.0,52.3 L1085.7,51.2 L1087.4,50.1 L1089.1,49.0 L1090.8,47.9 L1092.4,46.8 L1094.1,45.7 L1095.8,44.6 L1097.5,43.5 L1099.2,42.4 L1100.8,41.3 L1102.5,40.2 L1104.2,39.1 L1105.9,38.0 L1107.6,36.9 L1109.2,35.8 L1110.9,34.6 L1112.6,33.5 L1114.3,32.4 L1115.9,31.3 L1117.6,30.2 L1119.3,29.1 L1121.0,27.9" stroke="#bc2f33" stroke-width="11" fill="none" stroke-linecap="round" stroke-linejoin="round"/>
<text x="128" y="39.8" font-family="Liberation Sans, sans-serif" font-size="44" text-anchor="end" transform="translate(128 0) scale(1.05 1) translate(-128 0)">4.2</text>
<text x="128" y="127.5" font-family="Liberation Sans, sans-serif" font-size="44" text-anchor="end" transform="translate(128 0) scale(1.05 1) translate(-128 0)">4.0</text>
<text x="128" y="215.1" font-family="Liberation Sans, sans-serif" font-size="44" text-anchor="end" transform="translate(128 0) scale(1.05 1) translate(-128 0)">3.8</text>
<text x="128" y="302.8" font-family="Liberation Sans, sans-serif" font-size="44" text-anchor="end" transform="translate(128 0) scale(1.05 1) translate(-128 0)">3.6</text>
<text x="128" y="390.5" font-family="Liberation Sans, sans-serif" font-size="44" text-anchor="end" transform="translate(128 0) scale(1.05 1) translate(-128 0)">3.4</text>
<text x="128" y="478.1" font-family="Liberation Sans, sans-serif" font-size="44" text-anchor="end" transform="translate(128 0) scale(1.05 1) translate(-128 0)">3.2</text>
<text x="128" y="565.8" font-family="Liberation Sans, sans-serif" font-size="44" text-anchor="end" transform="translate(128 0) scale(1.05 1) translate(-128 0)">3.0</text>
<text x="128" y="653.4" font-family="Liberation Sans, sans-serif" font-size="44" text-anchor="end" transform="translate(128 0) scale(1.05 1) translate(-128 0)">2.8</text>
<text x="128" y="741.1" font-family="Liberation Sans, sans-serif" font-size="44" text-anchor="end" transform="translate(128 0) scale(1.05 1) translate(-128 0)">2.6</text>
<text x="146.4" y="786.5" font-family="Liberation Sans, sans-serif" font-size="44" text-anchor="middle" transform="translate(146.4 0) scale(1.04 1) translate(-146.4 0)">0</text>
<text x="360.2" y="786.5" font-family="Liberation Sans, sans-serif" font-size="44" text-anchor="middle" transform="translate(360.2 0) scale(1.04 1) translate(-360.2 0)">500</text>
<text x="580.0" y="786.5" font-family="Liberation Sans, sans-serif" font-size="44" text-anchor="middle" transform="translate(580.0 0) scale(1.04 1) translate(-580.0 0)">1000</text>
<text x="800.0" y="786.5" font-family="Liberation Sans, sans-serif" font-size="44" text-anchor="middle" transform="translate(800.0 0) scale(1.04 1) translate(-800.0 0)">1500</text>
<text x="1009.0" y="786.5" font-family="Liberation Sans, sans-serif" font-size="44" text-anchor="middle" transform="translate(1009.0 0) scale(1.04 1) translate(-1009.0 0)">2000</text>
<text x="1227.0" y="786.5" font-family="Liberation Sans, sans-serif" font-size="44" text-anchor="middle" transform="translate(1227.0 0) scale(1.04 1) translate(-1227.0 0)">2500</text>
<text x="0" y="0" font-family="Liberation Sans, sans-serif" font-size="49.5" text-anchor="middle" transform="translate(687.8 848) scale(1.025 1)">Capacity (mAh)</text>
<text transform="translate(35.1 368.5) rotate(-90) scale(1.02 1)" x="0" y="0" font-family="Liberation Sans, sans-serif" font-size="50" text-anchor="middle">Voltage (V)</text>
<path d="M261,88H350" stroke="#33b232" stroke-width="11" stroke-linecap="round"/>
<path d="M261,146.5H350" stroke="#bc2f33" stroke-width="11" stroke-linecap="round"/>
<text x="0" y="0" font-family="Liberation Sans, sans-serif" font-size="40" transform="translate(368 98.7) scale(1.015 1)">Control</text>
<text x="0" y="0" font-family="Liberation Sans, sans-serif" font-size="40" transform="translate(368.5 157.5) scale(1.005 1)">Prelithiated</text>
</svg></div>
</body></html>
